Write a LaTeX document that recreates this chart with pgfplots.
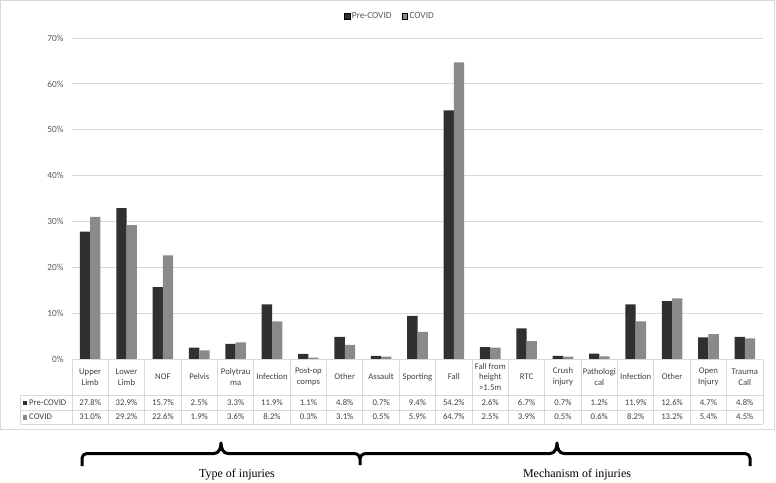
\documentclass[border=0pt]{standalone}
\usepackage{pgfplots}
\pgfplotsset{compat=1.18}
\usepackage{pgfplotstable}
\usepackage{fontspec}
\setmainfont{Carlito}
\newfontfamily\timesf{Liberation Serif}
\definecolor{pre}{HTML}{303030}
\definecolor{cov}{HTML}{8A8A8A}
\definecolor{gridc}{HTML}{D9D9D9}
\definecolor{txt}{HTML}{595959}
\definecolor{tbl}{HTML}{404040}

\pgfplotstableread{
idx pre cov
0 27.8 31.0
1 32.9 29.2
2 15.7 22.6
3 2.5 1.9
4 3.3 3.6
5 11.9 8.2
6 1.1 0.3
7 4.8 3.1
8 0.7 0.5
9 9.4 5.9
10 54.2 64.7
11 2.6 2.5
12 6.7 3.9
13 0.7 0.5
14 1.2 0.6
15 11.9 8.2
16 12.6 13.2
17 4.7 5.4
18 4.8 4.5
}\data

\begin{document}
\begin{tikzpicture}[x=1pt,y=1pt]
\useasboundingbox (0,0) rectangle (776,-482);
\draw[gridc, line width=0.9pt] (0.5,-0.5) rectangle (774.5,-429);

\begin{axis}[
  at={(72pt,-359pt)}, anchor=south west,
  scale only axis, width=691pt, height=321pt,
  xmin=-0.5, xmax=18.5, ymin=0, ymax=70,
  ybar=0pt, bar width=10.3pt,
  axis line style={draw=none},
  ytick={0,10,...,70},
  yticklabel={\pgfmathprintnumber{\tick}\%},
  ymajorgrids, grid style={gridc, line width=0.9pt},
  xtick=\empty,
  major tick length=0pt,
  tick label style={font=\fontsize{9.3}{10}\selectfont, text=txt},
  /pgf/number format/assume math mode=true,
  yticklabel style={xshift=-5pt},
  legend style={at={(0.46,1.0685)}, anchor=center, draw=none, fill=none,
    legend columns=2, font=\fontsize{9.3}{10}\selectfont, text=txt,
    /tikz/every even column/.append style={column sep=8pt}},
  legend image code/.code={\draw[#1] (0pt,-2.8pt) rectangle (5.6pt,2.8pt);},
  clip=false,
]
\addplot[fill=pre, draw=none] table[x=idx,y=pre]{\data};
\addplot[fill=cov, draw=none] table[x=idx,y=cov]{\data};
\legend{Pre-COVID, COVID}
\end{axis}

% data table grid
\begin{scope}[gridc, line width=0.9pt]
\draw (72,-359.5) -- (763,-359.5);
\foreach \k in {0,...,19} {\draw ({72+36.368*\k},-359.5) -- ({72+36.368*\k},-424);}
\draw (20,-395) -- (763,-395);
\draw (20,-410) -- (763,-410);
\draw (20,-424) -- (763,-424);
\draw (20,-395) -- (20,-424);
\end{scope}

\foreach \lab [count=\i from 0] in {{Upper\\Limb},{Lower\\Limb},NOF,Pelvis,{Polytrau\\ma},Infection,{Post-op\\comps},Other,Assault,Sporting,Fall,{Fall from\\height\\>1.5m},RTC,{Crush\\injury},{Pathologi\\cal},Infection,Other,{Open\\Injury},{Trauma\\Call}}
{\node[align=center, text=tbl, font=\fontsize{8.7}{10.8}\selectfont, inner sep=0pt] at ({72+36.368*(\i+0.5)},-377) {\lab};}

\foreach \i in {0,...,18} {
  \pgfplotstablegetelem{\i}{pre}\of\data
  \node[text=tbl, font=\fontsize{8.7}{10}\selectfont, inner sep=0pt] at ({72+36.368*(\i+0.5)},-402.5)
    {\pgfmathprintnumber[fixed,fixed zerofill,precision=1,assume math mode=true]{\pgfplotsretval}\%};
  \pgfplotstablegetelem{\i}{cov}\of\data
  \node[text=tbl, font=\fontsize{8.7}{10}\selectfont, inner sep=0pt] at ({72+36.368*(\i+0.5)},-417)
    {\pgfmathprintnumber[fixed,fixed zerofill,precision=1,assume math mode=true]{\pgfplotsretval}\%};
}
\fill[pre] (22.5,-400.5) rectangle (27,-405);
\fill[cov] (22.5,-415) rectangle (27,-419.5);
\node[anchor=west, text=tbl, font=\fontsize{8.7}{10}\selectfont, inner sep=0pt] at (29,-402.5) {Pre-COVID};
\node[anchor=west, text=tbl, font=\fontsize{8.7}{10}\selectfont, inner sep=0pt] at (29,-417) {COVID};

% braces
\draw[line width=3pt, line join=round]
  (82,-466) -- (82,-458) to[out=90,in=180] (87,-453.5) -- (214,-453.5)
  to[out=0,in=-90] (221,-443) to[out=-90,in=180] (228,-453.5) -- (354,-453.5)
  to[out=0,in=90] (360,-459) -- (360,-465);
\draw[line width=3pt, line join=round]
  (360,-459) to[out=90,in=180] (366,-453.5) -- (550,-453.5)
  to[out=0,in=-90] (557,-443) to[out=-90,in=180] (564,-453.5) -- (745,-453.5)
  to[out=0,in=90] (750,-458) -- (750,-466);
\node[font=\timesf\fontsize{12}{14}\selectfont] at (237,-475) {Type of injuries};
\node[font=\timesf\fontsize{12}{14}\selectfont] at (577,-475) {Mechanism of injuries};
\end{tikzpicture}
\end{document}
